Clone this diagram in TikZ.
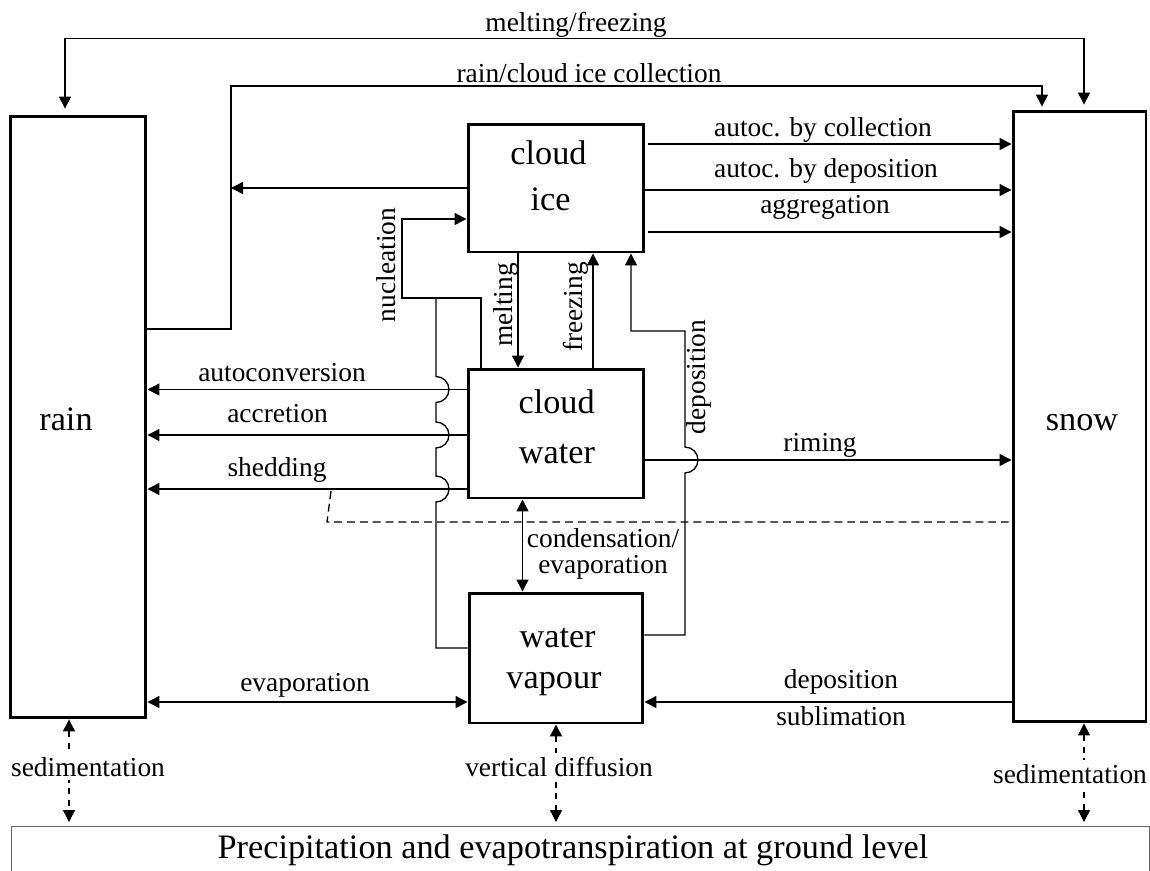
\documentclass[tikz,border=0pt]{standalone}
\usepackage{fontspec}
\setmainfont{Liberation Serif}
\usetikzlibrary{arrows.meta,calc}

\begin{document}
\begin{tikzpicture}[x=0.02cm, y=-0.02cm,
		box/.style={draw, line width=1.7pt, inner sep=0pt},
		boxlbl/.style={anchor=base, inner sep=0pt, font=\fontsize{19.5}{24}\selectfont},
		lbl/.style={anchor=base, inner sep=0pt, font=\fontsize{15.6}{18}\selectfont},
		pipe/.style={line width=0.75pt},
		flow/.style={pipe, -{Triangle[length=0.24cm,width=0.24cm]}},
		flows/.style={pipe, {Triangle[length=0.24cm,width=0.24cm]}-{Triangle[length=0.24cm,width=0.24cm]}},
		sedim/.style={flows, dash pattern=on 3.5pt off 3pt, shorten >=0.08cm},
		hop/.style={start angle=-90, end angle=90, radius=0.26cm}]
		%%%%% START %%%%%
		
		\useasboundingbox (0,0) rectangle (1150,870);
		
		\node[box, minimum width=2.72cm, minimum height=12.04cm] (rain) at (78,417) {};
		\node[box, minimum width=2.66cm, minimum height=12.22cm] (snow) at (1079.5,416.5) {};
		\node[box, minimum width=3.52cm, minimum height=2.56cm] (ice) at (556,188) {};
		\node[box, minimum width=3.52cm, minimum height=2.58cm] (water) at (556,433.5) {};
		\node[box, minimum width=3.48cm, minimum height=2.6cm] (vapour) at (556,658) {};
		
		\node[boxlbl] (train) at (66,430.7) {rain};
		\node[boxlbl] (tsnow) at (1082,430) {snow};
		\node[boxlbl] (tice1) at (548.5,164) {cloud};
		\node[boxlbl] (tice2) at (550.5,210.7) {ice};
		\node[boxlbl] (twat1) at (556.6,413) {cloud};
		\node[boxlbl] (twat2) at (557,463) {water};
		\node[boxlbl] (tvap1) at (557.6,647.3) {water};
		\node[boxlbl] (tvap2) at (554,688.3) {vapour};
		
		\node[draw=black!60, line width=0.5pt, anchor=north west, minimum width=22.76cm, minimum height=2cm, inner sep=0pt] (floor) at (11,826) {};
		\node[boxlbl] (ground) at (573,858) {Precipitation and evapotranspiration at ground level};
		
		% melting/freezing and collection over the top
		\draw[flows, shorten <=0.12cm, shorten >=0.1cm] ($(rain.north)+(-13,0)$) -- ++(0,-76) -| ($(snow.north)+(4.5,0)$);
		\node[lbl] (lmf) at (576,31) {melting/freezing};
		
		\coordinate (cup) at (231,86);
		\draw[flow, shorten >=0.06cm] ($(rain.east)+(0,-88)$) -| (cup) -| ($(snow.north)+(-37.5,0)$);
		\node[lbl] (lcoll) at (589,82) {rain/cloud ice collection};
		\draw[flow] (ice.west) -- (ice.west -| cup);
		
		% cloud ice to snow
		\draw[flow] ($(ice.east)+(3,-44)$) coordinate (i1) -- (i1 -| snow.west);
		\draw[flow] ($(ice.east)+(0,2)$) coordinate (i2) -- (i2 -| snow.west);
		\draw[flow] ($(ice.east)+(3,44)$) coordinate (i3) -- (i3 -| snow.west);
		\node[lbl] (lac) at (823,136) {autoc. by collection};
		\node[lbl] (lad) at (826,177) {autoc. by deposition};
		\node[lbl] (lagg) at (825,213) {aggregation};
		
		% cloud water to rain
		\coordinate (w1) at ($(water.west)+(0,-44)$);
		\coordinate (w2) at ($(water.west)+(0,1.5)$);
		\coordinate (w3) at ($(water.west)+(0,55.5)$);
		\draw[flow] (w1) -- (w1 -| rain.east);
		\draw[flow] (w2) -- (w2 -| rain.east);
		\draw[flow] (w3) -- (w3 -| rain.east);
		\node[lbl] (lauto) at (282,381.7) {autoconversion};
		\node[lbl] (lacc) at (277.5,422.7) {accretion};
		\node[lbl] (lshed) at (277,476) {shedding};
		
		% nucleation
		\coordinate (nx) at (436,298);
		\coordinate (nuc) at (402,298);
		\draw[pipe] ($(vapour.west)+(0,-10)$) -| ($(w3 -| nx)+(0,13)$) arc[hop] -- ($(w2 -| nx)+(0,13)$) arc[hop] -- ($(w1 -| nx)+(0,13)$) arc[hop] -- (nx);
		\draw[flow] ($(water.north)+(-75,0)$) |- (nuc) |- ($(ice.west)+(0,31)$);
		\node[lbl, rotate=90] (lnuc) at (395,265) {nucleation};
		
		% melting and freezing
		\draw[flow] ($(ice.south)+(-38,0)$) -- ($(water.north)+(-38,0)$);
		\draw[flow] ($(water.north)+(37,0)$) -- ($(ice.south)+(37,0)$);
		\node[lbl, rotate=90] (lmelt) at (512,305) {melting};
		\node[lbl, rotate=90] (lfrz) at (582,307) {freezing};
		
		% deposition on cloud ice
		\coordinate (dx) at (685,331);
		\draw[flow] ($(vapour.east)+(0,-23)$) -| ($(dx |- water.east)+(0,39.5)$) arc[hop] -- (dx) -| ($(ice.south)+(75,0)$);
		\node[lbl, rotate=90] (ldep) at (705,377) {deposition};
		
		% riming
		\draw[flow] ($(water.east)+(0,26.5)$) coordinate (r0) -- (r0 -| snow.west);
		\node[lbl] (lrim) at (820,451.7) {riming};
		
		\draw[pipe, dash pattern=on 4.5pt off 2.8pt] (331,491) -- (327,522) -- ($(snow.west)+(-3,105.5)$);
		
		% condensation/evaporation
		\draw[flows] ($(water.south)+(-33.5,0)$) -- ($(vapour.north)+(-33.5,0)$);
		\node[lbl] (lcond) at (603,547) {condensation/};
		\node[lbl] (levap) at (603,573) {evaporation};
		
		% vapour exchange with rain and snow
		\draw[flows] ($(vapour.west)+(0,44)$) coordinate (e0) -- (e0 -| rain.east);
		\node[lbl] (lev) at (305,691.7) {evaporation};
		\path ($(vapour.east)+(0,44)$) coordinate (s0);
		\draw[flow] (s0 -| snow.west) -- (s0);
		\node[lbl] (ldep2) at (841,688) {deposition};
		\node[lbl] (lsub) at (841,725.7) {sublimation};
		
		% exchange with the ground
		\coordinate (b1) at ($(rain.south)+(-9,0)$);
		\coordinate (b2) at (vapour.south);
		\coordinate (b3) at ($(snow.south)+(4.5,0)$);
		\draw[sedim] (b1) -- (b1 |- floor.north);
		\draw[sedim] (b2) -- (b2 |- floor.north);
		\draw[sedim] (b3) -- (b3 |- floor.north);
		\node[lbl, fill=white, inner sep=2pt] (lsed1) at (88,776) {sedimentation};
		\node[lbl, fill=white, inner sep=2pt] (ldiff) at (559,776) {vertical diffusion};
		\node[lbl, fill=white, inner sep=2pt] (lsed2) at (1070,783) {sedimentation};
		
		%%%%% END %%%%%
	\end{tikzpicture}
\end{document}
